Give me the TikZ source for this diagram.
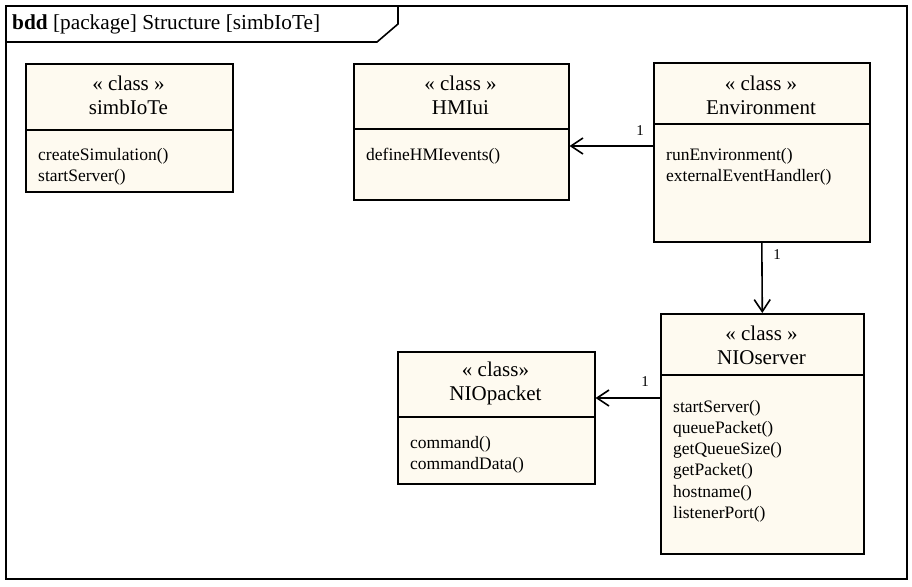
\documentclass[tikz,border=0pt]{standalone}
\usepackage{fontspec}
\setmainfont{Liberation Serif}
\usetikzlibrary{arrows.meta}
\definecolor{boxfill}{RGB}{254,250,240}
\begin{document}
\begin{tikzpicture}[x=1pt,y=-1pt,
  box/.style={draw,line width=1.6pt,fill=boxfill,anchor=north west,inner sep=0pt},
  divider/.style={line width=1.6pt},
  ttl/.style={font=\fontsize{21}{24}\selectfont,align=center,inner sep=0pt},
  ops/.style={font=\fontsize{17.5}{21.2}\selectfont,align=left,anchor=north west,inner sep=0pt},
  assoc/.style={line width=1.6pt,-{Straight Barb[length=12pt,width=16pt,line width=1.6pt]}},
  mult/.style={font=\fontsize{15}{17}\selectfont,inner sep=0pt},
  frameline/.style={line width=1.6pt}]
\useasboundingbox (0,0) rectangle (912,586);
% frame
\draw[frameline] (6,6) rectangle (907,579);
\draw[frameline] (6,42) -- (377,42) -- (398,24) -- (398,6);
\node[anchor=west,font=\fontsize{21.3}{24}\selectfont,inner sep=0pt] (hdr) at (12,24) {\textbf{bdd} [package] Structure [simbIoTe]};
% simbIoTe
\node[box,minimum width=207pt,minimum height=128pt] (sim) at (25,63) {};
\draw[divider] (25,130) -- (232,130);
\node[ttl] (simt) at (128.5,95) {« class »\\simbIoTe};
\node[ops] (simo) at (38,148) {createSimulation()\\startServer()};
% HMIui
\node[box,minimum width=215pt,minimum height=136pt] (hmi) at (353,63) {};
\draw[divider] (353,129) -- (568,129);
\node[ttl] (hmit) at (460.5,95) {« class »\\HMIui};
\node[ops] (hmio) at (366,148) {defineHMIevents()};
% Environment
\node[box,minimum width=216pt,minimum height=179pt] (env) at (653,62) {};
\draw[divider] (653,124) -- (869,124);
\node[ttl] (envt) at (761,95) {« class »\\Environment};
\node[ops] (envo) at (666,148) {runEnvironment()\\externalEventHandler()};
% NIOserver
\node[box,minimum width=203pt,minimum height=240pt] (nios) at (660,313) {};
\draw[divider] (660,375) -- (863,375);
\node[ttl] (niost) at (761.5,345) {« class »\\NIOserver};
\node[ops] (nioso) at (673,400) {startServer()\\queuePacket()\\getQueueSize()\\getPacket()\\hostname()\\listenerPort()};
% NIOpacket
\node[box,minimum width=197pt,minimum height=132pt] (niop) at (397,351) {};
\draw[divider] (397,417) -- (594,417);
\node[ttl] (niopt) at (495.5,383) {« class»\\NIOpacket};
\node[ops] (niopo) at (410,436) {command()\\commandData()};
% connectors
\coordinate (r1) at (0,146);
\coordinate (r2) at (0,398);
\draw[assoc] (env.west |- r1) -- (hmi.east |- r1);
\draw[assoc] (env.south) -- (nios.north);
\draw[assoc] (nios.west |- r2) -- (niop.east |- r2);
\node[mult] (m1) at (640,131) {1};
\node[mult] (m2) at (777,255) {1};
\node[mult] (m3) at (645,382) {1};
\end{tikzpicture}
\end{document}
